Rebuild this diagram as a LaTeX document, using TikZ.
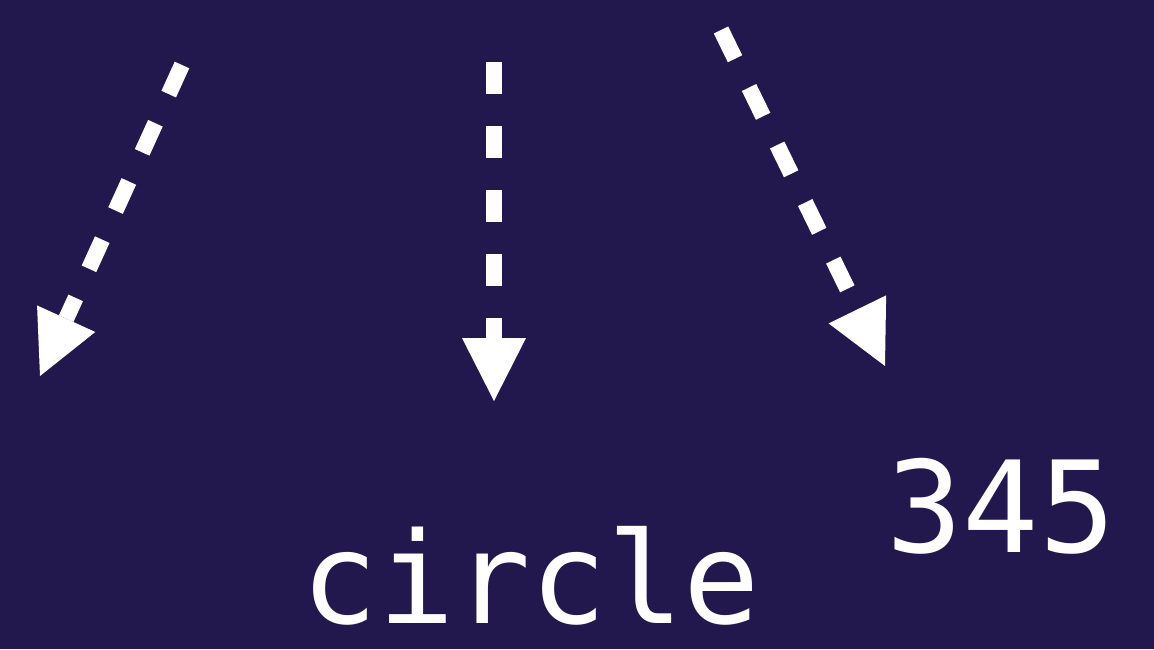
\documentclass[tikz,border=0pt]{standalone}
\usepackage{fontspec}
\setmonofont{DejaVu Sans Mono}
\usetikzlibrary{arrows.meta}
\definecolor{bgpurple}{RGB}{35,24,77}
\tikzset{
  dasharrow/.style={draw=white, line width=16pt, dash pattern=on 32pt off 32pt,
    -{Triangle[length=63pt,width=64pt,line width=0pt]}},
  bigtext/.style={text=white, inner sep=0pt, anchor=base, text depth=0pt,
    font=\ttfamily\fontsize{127}{127}\selectfont}
}
\begin{document}
\begin{tikzpicture}[x=1pt,y=-1pt]
\fill[bgpurple] (0,0) rectangle (1154,649);
\useasboundingbox (0,0) rectangle (1154,649);
\coordinate (s1) at (182,65);
\coordinate (e1) at (40,376);
\coordinate (s2) at (494,62);
\coordinate (e2) at (494,401);
\coordinate (s3) at (721,30);
\coordinate (e3) at (885,366);
\draw[dasharrow] (s1) -- (e1);
\draw[dasharrow] (s2) -- (e2);
\draw[dasharrow] (s3) -- (e3);
\node[bigtext] (circ) at (531,623) {circle};
\node[bigtext] (num) at (1001,552) {345};
\end{tikzpicture}
\end{document}
